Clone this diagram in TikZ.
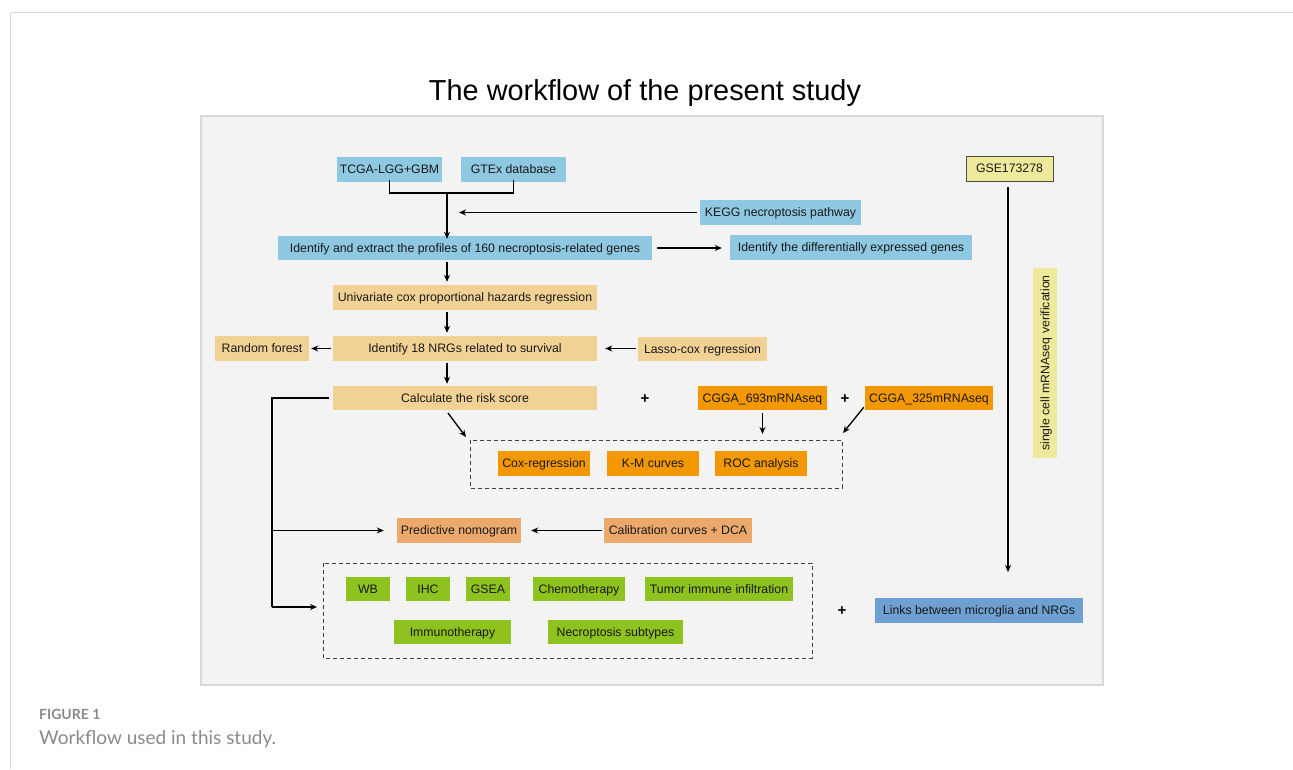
\documentclass[tikz,border=0pt]{standalone}
\usepackage{fontspec}
\setmainfont{Liberation Sans}
\newfontfamily\capfont{Lato}
\usetikzlibrary{arrows.meta}
\definecolor{lblue}{HTML}{8EC8E1}
\definecolor{tan}{HTML}{F2D195}
\definecolor{orng}{HTML}{F39800}
\definecolor{nomo}{HTML}{EBAA6B}
\definecolor{grn}{HTML}{8DC21F}
\definecolor{lnkblue}{HTML}{6EA0D2}
\definecolor{ylw}{HTML}{EEEA9B}
\definecolor{panel}{HTML}{F3F3F3}
\definecolor{panelline}{HTML}{D9D9D9}
\definecolor{capgray}{HTML}{8A8A8A}
\tikzset{
  box/.style={inner sep=0pt, font=\fontsize{12.3}{14}\selectfont, text=black!90, text height=8.8pt, text depth=0pt},
  arr/.style={line width=1.3pt, -{Stealth[length=7pt,width=6pt]}},
  ln/.style={line width=1.3pt},
  dbox/.style={draw=black!75, line width=0.8pt, dash pattern=on 4pt off 3pt},
  plus/.style={font=\fontsize{15}{15}\selectfont\bfseries, inner sep=0pt}
}
\newcommand{\bx}[7]{\node[box, fill=#2, minimum width=#5pt, minimum height=#6pt] (#1) at (#3,#4) {#7};}
\begin{document}
\begin{tikzpicture}[x=1pt,y=-1pt]
\useasboundingbox (0,0) rectangle (1293,769);
% card frame
\draw[panelline, line width=1pt] (10,769) -- (10,12) -- (1293,12);
% panel
\draw[panelline, fill=panel, line width=1.2pt] (201,116) rectangle (1103,685);
% title
\node[inner sep=0pt, font=\fontsize{28.9}{31}\selectfont] (title) at (645,93) {The workflow of the present study};
% boxes
\bx{tcga}{lblue}{389.5}{169.5}{105}{25}{TCGA-LGG+GBM}
\bx{gtex}{lblue}{513.5}{169.5}{105}{25}{GTEx database}
\bx{kegg}{lblue}{780.5}{212.5}{161}{25}{KEGG necroptosis pathway}
\bx{ident}{lblue}{465}{248}{374}{24}{Identify and extract the profiles of 160 necroptosis-related genes}
\bx{diff}{lblue}{851}{247.5}{242}{25}{Identify the differentially expressed genes}
\bx{uni}{tan}{465}{297.5}{264}{25}{Univariate cox proportional hazards regression}
\bx{nrg}{tan}{465}{348.5}{264}{25}{Identify 18 NRGs related to survival}
\bx{rf}{tan}{262}{348.5}{94}{25}{Random forest}
\bx{lasso}{tan}{702.5}{349}{129}{24}{Lasso-cox regression}
\bx{risk}{tan}{465}{398}{264}{24}{Calculate the risk score}
\bx{c693}{orng}{762.5}{398}{129}{24}{CGGA\_693mRNAseq}
\bx{c325}{orng}{929}{398}{128}{24}{CGGA\_325mRNAseq}
\node[plus] (p1) at (645,399) {+};
\node[plus] (p2) at (845,399) {+};
% dashed box 1
\draw[dbox] (470,440) rectangle (842,488);
\coordinate (d1nw) at (470,440);
\bx{cox}{orng}{544}{463.5}{92}{25}{Cox-regression}
\bx{km}{orng}{653}{463.5}{92}{25}{K-M curves}
\bx{roc}{orng}{761}{463.5}{92}{25}{ROC analysis}
\bx{nomo}{nomo}{459}{530.5}{124}{25}{Predictive nomogram}
\bx{cal}{nomo}{678}{530.5}{148}{25}{Calibration curves + DCA}
% dashed box 2
\draw[dbox] (323,563) rectangle (812,658);
\bx{wb}{grn}{368}{589}{44}{24}{WB}
\bx{ihc}{grn}{428}{589}{44}{24}{IHC}
\bx{gsea}{grn}{488}{589}{44}{24}{GSEA}
\bx{chemo}{grn}{579}{589}{92}{24}{Chemotherapy}
\bx{tii}{grn}{719}{589}{148}{24}{Tumor immune infiltration}
\bx{immuno}{grn}{452.5}{632}{117}{24}{Immunotherapy}
\bx{subt}{grn}{615.5}{632}{135}{24}{Necroptosis subtypes}
\node[plus] (p3) at (842,611) {+};
\bx{links}{lnkblue}{979}{610.5}{208}{25}{Links between microglia and NRGs}
\node[box, fill=ylw, draw=black!70, line width=0.7pt, minimum width=87pt, minimum height=25pt] (gse) at (1009.5,168.5) {GSE173278};
\node[box, fill=ylw, rotate=90, minimum width=190pt, minimum height=24pt] (sc) at (1045,363) {single cell mRNAseq verification};
% connectors
\coordinate (bl) at (tcga.south |- 0,193);
\coordinate (br) at (gtex.south |- 0,193);
\coordinate (jn) at (447,193);
\draw[ln] ([yshift=2pt]tcga.south) -- (bl) -- (br) -- ([yshift=2pt]gtex.south);
\draw[arr] (jn) -- ([yshift=-3pt]ident.north -| jn);
\coordinate (keggend) at (459,212);
\draw[arr] ([xshift=-3pt]kegg.west) -- (kegg.west -| keggend);
\draw[arr, shorten <=5pt, shorten >=8pt] (ident.east) -- (diff.west |- ident.east);
\draw[arr, shorten <=2pt, shorten >=3pt] (ident.south -| jn) -- (uni.north -| jn);
\draw[arr, shorten <=2pt, shorten >=3pt] (uni.south -| jn) -- (nrg.north -| jn);
\draw[arr, shorten <=2pt, shorten >=2pt] (nrg.south -| jn) -- (risk.north -| jn);
\draw[arr, shorten <=2pt, shorten >=2pt] (nrg.west) -- (rf.east |- nrg.west);
\draw[arr, shorten <=2pt, shorten >=8pt] (lasso.west |- nrg.east) -- (nrg.east);
\coordinate (rk1) at (448,413);
\coordinate (d1a) at (466,437);
\draw[arr] (rk1) -- (d1a);
\draw[arr, shorten <=3pt, shorten >=6pt] (c693.south) -- (c693.south |- d1nw);
\coordinate (d1b) at (843,433);
\draw[arr] ([xshift=-1pt,yshift=3pt]c325.south west) -- (d1b);
% left bus
\coordinate (bus1) at (272,398);
\coordinate (bus2) at (272,530.5);
\coordinate (bus3) at (272,607);
\coordinate (d2in) at (317,607);
\draw[ln] ([xshift=-4pt]risk.west) -- (bus1) -- (bus3);
\draw[arr, shorten >=13pt] (bus2) -- (nomo.west);
\draw[arr] (bus3) -- (d2in);
\draw[arr, shorten <=2pt, shorten >=10pt] (cal.west) -- (nomo.east);
\coordinate (gseend) at (1008,572);
\draw[arr] ([yshift=-6pt]gse.south -| gseend) -- (gseend);
% caption
\node[anchor=west, inner sep=0pt, text=capgray, font=\capfont\fontsize{14}{15}\selectfont\bfseries] (fig) at (39,714) {FIGURE 1};
\node[anchor=west, inner sep=0pt, text=capgray, font=\capfont\fontsize{19}{21}\selectfont] (cap) at (39,739) {Workflow used in this study.};
\end{tikzpicture}
\end{document}
